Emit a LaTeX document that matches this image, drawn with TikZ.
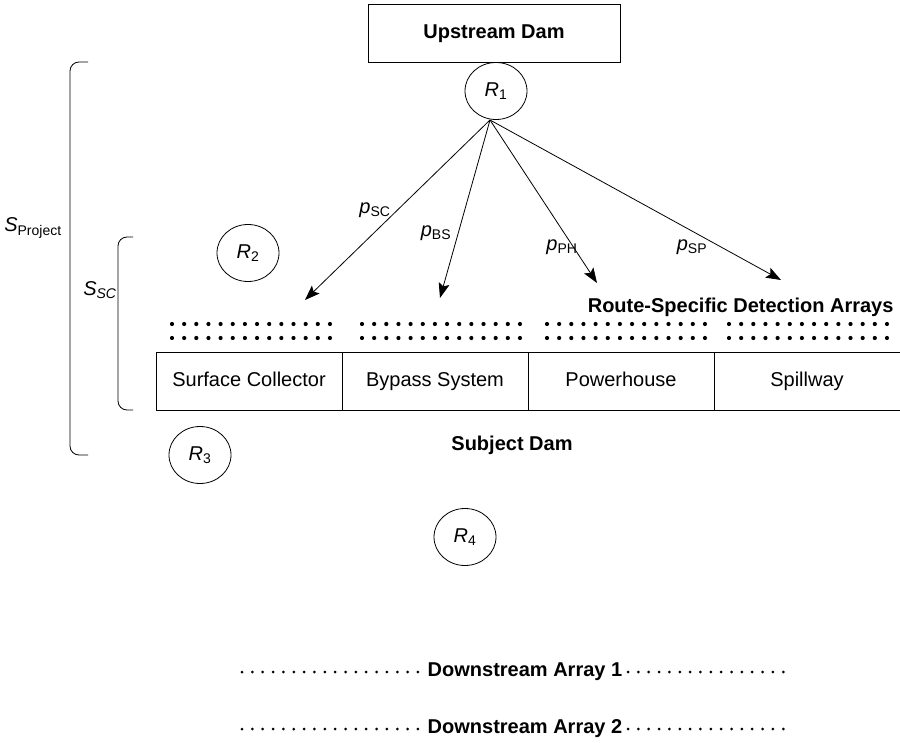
\documentclass[tikz,border=0pt]{standalone}
\usepackage{fontspec}
\setmainfont{Liberation Sans}
\usetikzlibrary{arrows.meta,shapes.geometric}
\newcommand{\vsub}[2]{\textit{#1}\textsubscript{#2}}

\begin{document}
\begin{tikzpicture}[x=1pt, y=-1pt, >={Stealth[length=15pt,width=11pt,inset=3pt]}, font=\fontsize{20}{24}\selectfont]
	\tikzstyle{site} = [draw, thick, ellipse, minimum width=62pt, minimum height=57pt, inner sep=0pt]
	\tikzstyle{route} = [draw, thick, minimum width=186pt, minimum height=58pt, inner sep=0pt, text height=15pt, text depth=4pt]
	\tikzstyle{title} = [font=\bfseries\fontsize{20}{24}\selectfont]
	\tikzstyle{rsarray} = [line width=4.2pt, line cap=round, dash pattern=on 0pt off 12.15pt]
	\tikzstyle{dsarray} = [line width=3pt, line cap=round, dash pattern=on 0pt off 10.35pt]
	\tikzstyle{bracket} = [thick, rounded corners=9pt]
	\useasboundingbox (0,0) rectangle (900,743);

	% dams and release sites
	\node[route, minimum width=252pt, title] (up) at (494,33) {Upstream Dam};
	\node[site] (r1) at (496,91) {\vsub{R}{1}};
	\node[site] (r2) at (248,253) {\vsub{R}{2}};
	\node[site] (r3) at (200,455) {\vsub{R}{3}};
	\node[site] (r4) at (465,537) {\vsub{R}{4}};

	% routes through the subject dam
	\node[route] (sc) at (249,381) {Surface Collector};
	\node[route] (bs) at (435,381) {Bypass System};
	\node[route] (ph) at (621,381) {Powerhouse};
	\node[route] (sp) at (807,381) {Spillway};
	\node[title] (subj) at (512,445) {Subject Dam};
	\node[title, anchor=east] (rsda) at (897,307) {Route-Specific Detection Arrays};

	% route-specific arrays
	\foreach \xa in {172,362,547,729} {
		\draw[rsarray] (\xa,324) -- ++(160,0);
		\draw[rsarray] (\xa,338) -- ++(160,0);
	}

	% route probabilities
	\coordinate (hub) at (490,120);
	\coordinate (tsc) at (305,300);
	\coordinate (tbs) at (440,298);
	\coordinate (tph) at (597,283);
	\coordinate (tsp) at (781,280);
	\draw[->, thick] (hub) -- (tsc);
	\draw[->, thick] (hub) -- (tbs);
	\draw[->, thick] (hub) -- (tph);
	\draw[->, thick] (hub) -- (tsp);
	\node (psc) at (375,210) {\vsub{p}{SC}};
	\node (pbs) at (436,233) {\vsub{p}{BS}};
	\node (pph) at (562,247) {\vsub{p}{PH}};
	\node (psp) at (692,247) {\vsub{p}{SP}};

	% downstream arrays
	\node[title] (da1) at (525,672) {Downstream Array 1};
	\node[title] (da2) at (525,729) {Downstream Array 2};
	\foreach \ya in {672,729} {
		\draw[dsarray] (242,\ya) -- ++(180,0);
		\draw[dsarray] (628,\ya) -- ++(163,0);
	}

	% survival brackets
	\draw[bracket] (88,62) -- (70,62) -- (70,455) -- (88,455);
	\draw[bracket] (133,237) -- (118,237) -- (118,410) -- (133,410);
	\node (sproj) at (33,228) {\textit{S}\textsubscript{Project}};
	\node (ssc) at (100,290) {\textit{S}\textsubscript{\textit{SC}}};
\end{tikzpicture}
\end{document}
